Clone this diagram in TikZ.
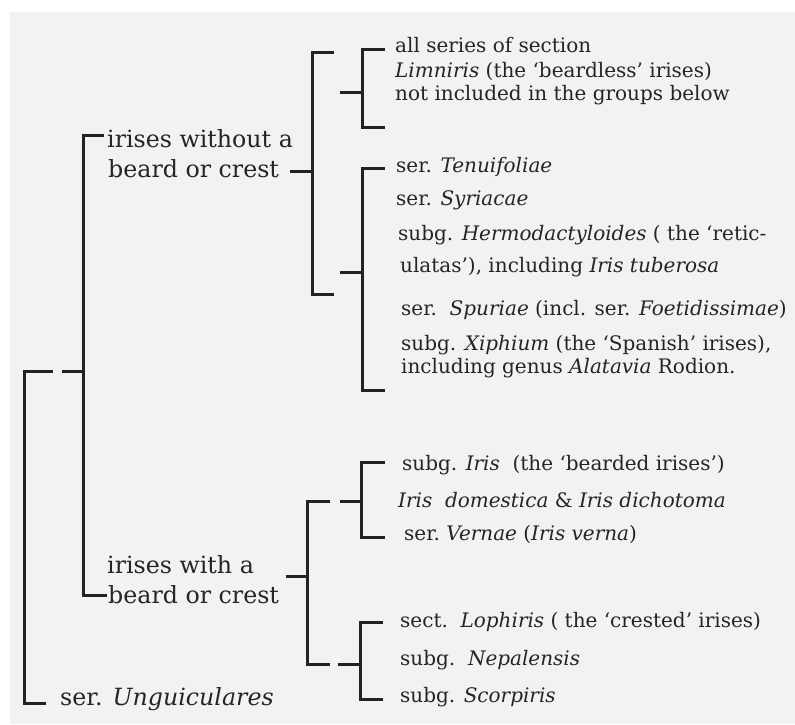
\documentclass[tikz,border=0pt]{standalone}
\usepackage{fontspec}
\setmainfont{DejaVu Serif}
\definecolor{bggray}{HTML}{F2F2F2}
\definecolor{ink}{HTML}{222222}
\definecolor{txt}{HTML}{252525}
\begin{document}
\begin{tikzpicture}[x=1pt,y=-1pt,
  br/.style={draw=ink,line width=3pt,line join=miter},
  big/.style={anchor=base west,inner sep=0pt,text=txt,font=\fontsize{23.7}{28}\selectfont},
  small/.style={anchor=base west,inner sep=0pt,text=txt,font=\fontsize{20}{24}\selectfont}]
\useasboundingbox (0,0) rectangle (795,724);
\fill[white] (0,0) rectangle (795,724);
\fill[bggray] (10,12) rectangle (795,724);
% labels
\node[big] (w1) at (107,147) {irises without a};
\node[big] (w2) at (108,177) {beard or crest};
\node[big] (b1) at (107,573) {irises with a};
\node[big] (b2) at (108,603) {beard or crest};
\node[big] (ung) at (60,705) {ser. \textit{Unguiculares}};
\node[small] (l1) at (395,52) {all series of section};
\node[small] (l2) at (395,77) {\textit{Limniris} (the ‘beardless’ irises)};
\node[small] (l3) at (395,100) {not included in the groups below};
\node[small] (t1) at (396,172) {ser. \textit{Tenuifoliae}};
\node[small] (t2) at (396,205) {ser. \textit{Syriacae}};
\node[small] (t3) at (398,240) {subg. \textit{Hermodactyloides} ( the ‘retic-};
\node[small] (t4) at (400,272) {ulatas’), including \textit{Iris tuberosa}};
\node[small] (t5) at (401,315) {ser.\ \ \textit{Spuriae} (incl. ser. \textit{Foetidissimae})};
\node[small] (t6) at (401,350) {subg. \textit{Xiphium} (the ‘Spanish’ irises),};
\node[small] (t7) at (401,373) {including genus \textit{Alatavia} Rodion.};
\node[small] (i1) at (402,470) {subg. \textit{Iris}\ \ (the ‘bearded irises’)};
\node[small] (i2) at (398,507) {\textit{Iris\ \ domestica} \& \textit{Iris dichotoma}};
\node[small] (i3) at (404,540) {ser.\ \textit{Vernae} (\textit{Iris verna})};
\node[small] (c1) at (400,627) {sect.\ \ \textit{Lophiris} ( the ‘crested’ irises)};
\node[small] (c2) at (400,665) {subg.\ \ \textit{Nepalensis}};
\node[small] (c3) at (400,702) {subg. \textit{Scorpiris}};
% bracket points
\coordinate (rt) at (24,371); \coordinate (rb) at (24,703);
\coordinate (rtt) at (53,371); \coordinate (rbt) at (46,703);
\coordinate (g1) at (62,371); \coordinate (am) at (83,371);
\coordinate (at) at (83,135); \coordinate (ab) at (83,595);
\coordinate (att) at (104,135); \coordinate (abt) at (107,595);
\coordinate (wc) at (290,171); \coordinate (bm) at (312,171);
\coordinate (bt) at (312,52); \coordinate (bb) at (312,294);
\coordinate (btt) at (334,52); \coordinate (bbt) at (334,294);
\coordinate (cs) at (340,92); \coordinate (cm) at (362,92);
\coordinate (ct) at (362,49); \coordinate (cb) at (362,127);
\coordinate (ctt) at (385,49); \coordinate (cbt) at (385,127);
\coordinate (ds) at (340,272); \coordinate (dm) at (362,272);
\coordinate (dt) at (362,168); \coordinate (db) at (362,390);
\coordinate (dtt) at (385,168); \coordinate (dbt) at (385,390);
\coordinate (bc) at (286,576); \coordinate (em) at (307,576);
\coordinate (et) at (307,501); \coordinate (eb) at (307,664);
\coordinate (ett) at (330,501); \coordinate (ebt) at (330,664);
\coordinate (fs) at (340,501); \coordinate (fm) at (361,501);
\coordinate (ft) at (361,462); \coordinate (fb) at (361,537);
\coordinate (ftt) at (385,462); \coordinate (fbt) at (385,537);
\coordinate (gs) at (338,664); \coordinate (gm) at (360,664);
\coordinate (gt) at (360,622); \coordinate (gb) at (360,699);
\coordinate (gtt) at (383,622); \coordinate (gbt) at (383,699);
% brackets
\draw[br] (rtt) -- (rt) -- (rb) -- (rbt);
\draw[br] (g1) -- (am);
\draw[br] (att) -- (at) -- (ab) -- (abt);
\draw[br] (wc) -- (bm);
\draw[br] (btt) -- (bt) -- (bb) -- (bbt);
\draw[br] (cs) -- (cm);
\draw[br] (ctt) -- (ct) -- (cb) -- (cbt);
\draw[br] (ds) -- (dm);
\draw[br] (dtt) -- (dt) -- (db) -- (dbt);
\draw[br] (bc) -- (em);
\draw[br] (ett) -- (et) -- (eb) -- (ebt);
\draw[br] (fs) -- (fm);
\draw[br] (ftt) -- (ft) -- (fb) -- (fbt);
\draw[br] (gs) -- (gm);
\draw[br] (gtt) -- (gt) -- (gb) -- (gbt);
\end{tikzpicture}
\end{document}
